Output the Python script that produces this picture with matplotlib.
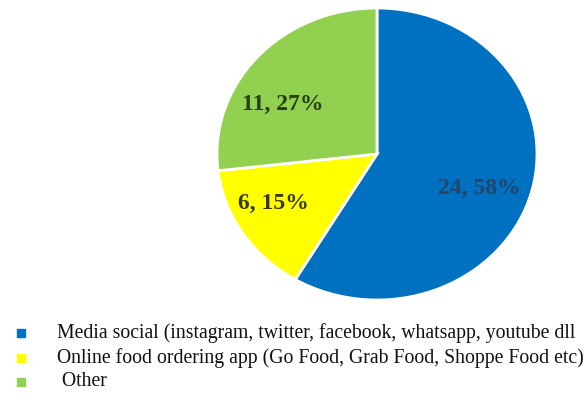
import numpy as np
import matplotlib.pyplot as plt

# Where respondents learned about the product
categories = ['Media social (instagram, twitter, facebook, whatsapp, youtube dll',
              'Online food ordering app (Go Food, Grab Food, Shoppe Food etc)',
              ' Other']
counts = [24, 6, 11]
percents = [58, 15, 27]

colors = ['#0070C0', '#FFFF00', '#92D050']
label_colors = ['#24456A', '#3A3A08', '#26400F']
# label placement per slice: (angle offset in degrees, radius)
label_place = [(-5, 0.68), (-5, 0.73), (12, 0.68)]

plt.rcParams['font.family'] = ['Liberation Serif', 'DejaVu Serif']

W, H = 586, 409
fig = plt.figure(figsize=(W / 100, H / 100), dpi=100)

# pie axes spans the ellipse drawn in the upper right
ax = fig.add_axes([217 / W, (H - 300) / H, 320 / W, 292 / H])
wedges, _ = ax.pie(counts, colors=colors, startangle=90, counterclock=False,
                   wedgeprops=dict(edgecolor='white', linewidth=2))
ax.set_xlim(-1, 1)
ax.set_ylim(-1, 1)
ax.set_aspect('auto')
ax.axis('off')

for w, n, p, col, (dang, r) in zip(wedges, counts, percents, label_colors, label_place):
    mid = np.deg2rad((w.theta1 + w.theta2) / 2 + dang)
    ax.text(r * np.cos(mid), r * np.sin(mid), f'{n}, {p}%',
            ha='center', va='center', fontsize=17, fontweight='bold', color=col)

# legend rows below the pie
rows_y = [333, 358, 382]
for y, c, name in zip(rows_y, colors, categories):
    fig.patches.append(plt.Rectangle((17 / W, (H - y - 4) / H), 8 / W, 8 / H,
                                     transform=fig.transFigure, color=c))
    fig.text(57 / W, (H - y) / H, name, fontsize=14.2, va='center', ha='left',
             color='#111111')

fig.savefig('out.png', dpi=100)
